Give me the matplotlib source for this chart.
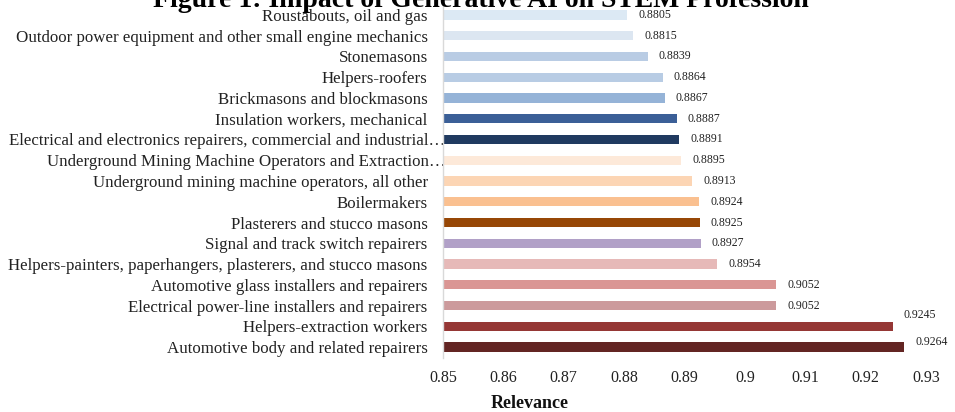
import matplotlib
matplotlib.use("Agg")
import matplotlib.pyplot as plt
from matplotlib.transforms import ScaledTranslation

# Occupations (top to bottom) and their relevance scores
occupations = [
    "Roustabouts, oil and gas",
    "Outdoor power equipment and other small engine mechanics",
    "Stonemasons",
    "Helpers-roofers",
    "Brickmasons and blockmasons",
    "Insulation workers, mechanical",
    "Electrical and electronics repairers, commercial and industrial\u2026",
    "Underground Mining Machine Operators and Extraction\u2026",
    "Underground mining machine operators, all other",
    "Boilermakers",
    "Plasterers and stucco masons",
    "Signal and track switch repairers",
    "Helpers-painters, paperhangers, plasterers, and stucco masons",
    "Automotive glass installers and repairers",
    "Electrical power-line installers and repairers",
    "Helpers-extraction workers",
    "Automotive body and related repairers",
]
relevance = [0.8805, 0.8815, 0.8839, 0.8864, 0.8867, 0.8887, 0.8891, 0.8895,
             0.8913, 0.8924, 0.8925, 0.8927, 0.8954, 0.9052, 0.9052, 0.9245,
             0.9264]
x_ticks = [0.85, 0.86, 0.87, 0.88, 0.89, 0.90, 0.91, 0.92, 0.93]
x_tick_labels = ["0.85", "0.86", "0.87", "0.88", "0.89", "0.9", "0.91", "0.92", "0.93"]

bar_colors = [
    "#dce9f4", "#dce6f1", "#b9cce4", "#b8cce4", "#95b3d7", "#3b5f97",
    "#203a60", "#fde9d9", "#fcd5b4", "#fac090", "#974706", "#b1a0c7",
    "#e6b9b8", "#da9694", "#cc9a9c", "#953735", "#632523",
]
# vertical nudges (points) for value labels near the bottom edge
label_nudge = {15: 8, 16: 4}

serif = ["Liberation Serif", "DejaVu Serif"]
plt.rcParams["font.family"] = serif

fig = plt.figure(figsize=(9.55, 4.12), dpi=100)
ax = fig.add_axes([443 / 955, 1 - 357.5 / 412, (926 - 443) / 955, (357.5 - 4.5) / 412])

ypos = list(range(len(occupations)))
ax.barh(ypos, [v - 0.85 for v in relevance], left=0.85, height=0.45,
        color=bar_colors, edgecolor="none")

for i, v in enumerate(relevance):
    ax.annotate(f"{v:.4f}", xy=(v, i), xytext=(8, label_nudge.get(i, 0)),
                textcoords="offset points", va="center", ha="left",
                fontsize=8.5, color="#222222")

ax.set_xlim(0.85, 0.93)
ax.set_ylim(len(occupations) - 0.5, -0.5)
ax.set_yticks(ypos)
ax.set_yticklabels(occupations, fontsize=12.2, color="#222222")
ax.set_xticks(x_ticks)
ax.set_xticklabels(x_tick_labels, fontsize=11.5, color="#222222")
ax.tick_params(axis="both", length=0)
ax.tick_params(axis="y", pad=11)
ax.tick_params(axis="x", pad=9)

# truncated category names sit closer to the axis line
for lbl in ax.get_yticklabels():
    if lbl.get_text().endswith("\u2026"):
        lbl.set_transform(lbl.get_transform() + ScaledTranslation(18 / 100, 0, fig.dpi_scale_trans))

for side in ["top", "right", "bottom"]:
    ax.spines[side].set_visible(False)
ax.spines["left"].set_color("#d9d9d9")
ax.spines["left"].set_linewidth(1.0)

fig.text(481 / 955, 1 - 7 / 412, "Figure 1: Impact of Generative AI on STEM Profession",
         ha="center", va="baseline", fontsize=20, fontweight="bold", color="black")
fig.text(530 / 955, 1 - 403 / 412, "Relevance", ha="center", va="center",
         fontsize=13, fontweight="bold", color="#111111")

fig.savefig("out.png", dpi=100)
